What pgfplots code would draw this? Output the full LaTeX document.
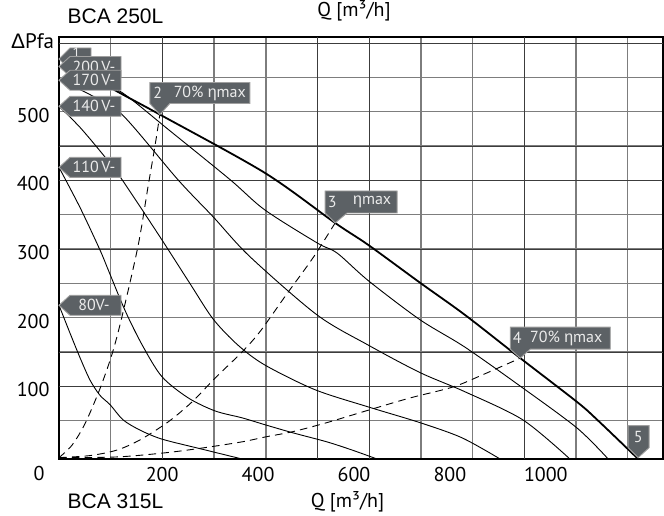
\documentclass[border=0pt]{standalone}
\usepackage{fontspec}
\setmainfont{PT Sans}
\newfontfamily\arialfont{Liberation Sans}
\usepackage{pgfplots}
\pgfplotsset{compat=1.18}
\definecolor{lblfill}{RGB}{92,97,101}
\definecolor{lbldraw}{RGB}{160,160,160}
\definecolor{lbltxt}{RGB}{235,235,235}
\definecolor{gridgray}{RGB}{125,125,125}
\definecolor{griddark}{RGB}{60,60,60}
\tikzset{lbl/.style={fill=lblfill, draw=lbldraw, line width=0.45pt, line join=miter},
  lbltext/.style={text=lbltxt, font=\fontsize{8}{9}\selectfont, inner sep=0pt, anchor=center}}
\begin{document}
\begin{tikzpicture}
\begin{axis}[
  at={(0,0)}, anchor=south west, scale only axis,
  width=302pt, height=211pt,
  xmin=0, xmax=1168, ymin=-6, ymax=609,
  axis line style={line width=0.75pt, black},
  xtick={100,200,...,1100}, xticklabels={},
  ytick={50,100,...,600},
  yticklabels={,100,,200,,300,,400,,500,,},
  major tick length=0pt,
  grid=major,
  major grid style={gridgray, line width=0.65pt},
  extra x ticks={200,500,600,900}, extra x tick labels={},
  extra y ticks={100,150,300,400,450,600}, extra y tick labels={},
  extra tick style={major grid style={griddark, line width=0.35pt}},
  yticklabel style={font=\fontsize{10}{12}\selectfont, xshift=-1.2pt, yshift=-1.75pt},
  /pgf/number format/assume math mode=true,
]
% curve 1 (max)
\addplot[black, line width=0.9pt, smooth] coordinates {(0,577) (114,529) (195,496) (398,411) (534,338) (598,306) (698,251) (785,204) (892,141) (1002,77) (1041,51) (1120,-6)};
% 200 V
\addplot[black, line width=0.45pt, smooth] coordinates {(0,566) (60,550) (122,528) (215,472) (331,401) (398,357) (499,309) (538,294) (598,254) (698,197) (785,157) (896,98) (1002,39) (1062,-6)};
% 170 V
\addplot[black, line width=0.45pt, smooth] coordinates {(0,546) (60,525) (122,496) (230,401) (298,347) (369,289) (499,204) (598,160) (698,120) (785,92) (897,51) (988,-6)};
% 140 V
\addplot[black, line width=0.45pt, smooth] coordinates {(0,508) (41,477) (89,434) (122,401) (195,318) (253,250) (298,198) (346,160) (398,131) (495,95) (602,69) (698,47) (779,25) (853,-6)};
% 110 V
\addplot[black, line width=0.45pt, smooth] coordinates {(0,419) (41,360) (79,299) (95,270) (128,210) (161,160) (199,114) (250,83) (302,64) (354,54) (398,44) (453,32) (518,19) (567,7) (615,-6)};
% 80 V
\addplot[black, line width=0.45pt, smooth] coordinates {(0,218) (21,178) (41,141) (60,109) (79,87) (99,73) (124,51) (157,36) (199,23) (273,9) (354,-6)};
% efficiency lines
\addplot[black, line width=0.45pt, smooth, dash pattern=on 3.8pt off 2.6pt] coordinates {(0,-4) (25,14) (50,45) (79,96) (103,148) (122,202) (153,305) (172,390) (186,452) (195,496)};
\addplot[black, line width=0.45pt, smooth, dash pattern=on 3.8pt off 2.6pt] coordinates {(0,-4) (60,-1) (112,7) (157,22) (211,48) (257,77) (302,112) (354,150) (389,180) (441,235) (491,287) (534,338)};
\addplot[black, line width=0.45pt, smooth, dash pattern=on 3.8pt off 2.6pt] coordinates {(0,-4) (112,-3) (205,3) (277,10) (354,19) (398,26) (453,34) (518,47) (602,66) (679,83) (762,99) (820,117) (892,141)};
\coordinate (v1) at (axis cs:0,577);
\coordinate (v200) at (axis cs:0,566);
\coordinate (v170) at (axis cs:0,546);
\coordinate (v140) at (axis cs:0,508);
\coordinate (v110) at (axis cs:0,419);
\coordinate (v80) at (axis cs:0,218);
\coordinate (p2) at (axis cs:195,496);
\coordinate (p3) at (axis cs:534,338);
\coordinate (p4) at (axis cs:892,141);
\coordinate (p5) at (axis cs:1120,-4);
\end{axis}
% BCA 315L flow scale (bottom tick labels)
\begin{axis}[
  at={(0,0)}, anchor=south west, scale only axis,
  width=302pt, height=211pt,
  xmin=-15.2, xmax=1244.4, ymin=0, ymax=1,
  axis line style={draw=none}, ytick=\empty,
  xtick={200,400,600,800,1000}, major tick length=0pt,
  xticklabel style={font=\fontsize{10}{12}\selectfont, yshift=-0.7pt},
  /pgf/number format/assume math mode=true,
  /pgf/number format/1000 sep={},
]
\addplot[draw=none] coordinates {(0,0.5)};
\end{axis}
% voltage labels
\filldraw[lbl] (v1) -- ++(5.5pt,5.5pt) -- ++(10.5pt,0pt) -- ++(0pt,-11pt) -- ++(-10.5pt,0pt) -- cycle;
\node[lbltext, font=\fontsize{7}{8}\selectfont] at ([xshift=8.75pt,yshift=3pt]v1) {1};
\filldraw[lbl] (v200) -- ++(5.5pt,5pt) -- ++(25.5pt,0pt) -- ++(0pt,-10pt) -- ++(-25.5pt,0pt) -- cycle;
\node[lbltext] at ([xshift=17.5pt,yshift=-0.3pt]v200) {200\,V-};
\filldraw[lbl] (v170) -- ++(5.5pt,5pt) -- ++(25.5pt,0pt) -- ++(0pt,-10pt) -- ++(-25.5pt,0pt) -- cycle;
\node[lbltext] at ([xshift=17.5pt]v170) {170\,V-};
\filldraw[lbl] (v140) -- ++(5.5pt,5pt) -- ++(25.5pt,0pt) -- ++(0pt,-10pt) -- ++(-25.5pt,0pt) -- cycle;
\node[lbltext] at ([xshift=17.5pt]v140) {140\,V-};
\filldraw[lbl] (v110) -- ++(5.5pt,5pt) -- ++(25.5pt,0pt) -- ++(0pt,-10pt) -- ++(-25.5pt,0pt) -- cycle;
\node[lbltext] at ([xshift=17.5pt]v110) {110\,V-};
\filldraw[lbl] (v80) -- ++(5.5pt,5pt) -- ++(25.5pt,0pt) -- ++(0pt,-10pt) -- ++(-25.5pt,0pt) -- cycle;
\node[lbltext] at ([xshift=17.5pt]v80) {80V-};
% operating point callouts
\filldraw[lbl] (p2) -- ++(5pt,5.5pt) -- ++(40pt,0pt) -- ++(0pt,10.5pt) -- ++(-50pt,0pt) -- ++(0pt,-10.5pt) -- cycle;
\node[lbltext] at ([xshift=-1pt,yshift=10.75pt]p2) {2};
\node[lbltext] at ([xshift=25pt,yshift=10.75pt]p2) {70\% {\arialfont η}max};
\filldraw[lbl] (p3) -- ++(6pt,5pt) -- ++(25pt,0pt) -- ++(0pt,11pt) -- ++(-36pt,0pt) -- ++(0pt,-11pt) -- cycle;
\node[lbltext] at ([xshift=-1.5pt,yshift=10.5pt]p3) {3};
\node[lbltext] at ([xshift=18.5pt,yshift=10.5pt]p3) {{\arialfont η}max};
\filldraw[lbl] (p4) -- ++(5pt,4.5pt) -- ++(40pt,0pt) -- ++(0pt,11pt) -- ++(-50pt,0pt) -- ++(0pt,-11pt) -- cycle;
\node[lbltext] at ([xshift=-1.5pt,yshift=10pt]p4) {4};
\node[lbltext] at ([xshift=23pt,yshift=10pt]p4) {70\% {\arialfont η}max};
\filldraw[lbl] (p5) -- ++(5.5pt,5pt) -- ++(0pt,11pt) -- ++(-10.5pt,0pt) -- ++(0pt,-11pt) -- cycle;
\node[lbltext] at ([yshift=10.5pt]p5) {5};
% titles and axis texts
\node[font=\arialfont\fontsize{10.5}{12}\selectfont, anchor=base, inner sep=0pt] at (28.25pt,217.8pt) {BCA 250L};
\node[font=\arialfont\fontsize{10.5}{12}\selectfont, anchor=base, inner sep=0pt] at (28.25pt,-24.5pt) {BCA 315L};
\node[font=\fontsize{10}{12}\selectfont, anchor=base, inner sep=0pt] at (147.5pt,221pt) {Q [m³/h]};
\node[font=\fontsize{10}{12}\selectfont, anchor=base, inner sep=0pt] at (144.25pt,-24pt) {Q [m³/h]};
\node[font=\fontsize{10.5}{12}\selectfont, anchor=base, inner sep=0pt] at (-13.25pt,205pt) {{\arialfont Δ}Pfa};
\node[font=\fontsize{10}{12}\selectfont, anchor=base, inner sep=0pt] at (-10pt,-10.5pt) {0};
\pgfresetboundingbox
\useasboundingbox (-29.5pt,-28pt) rectangle (302.5pt,229.5pt);
\end{tikzpicture}
\end{document}
